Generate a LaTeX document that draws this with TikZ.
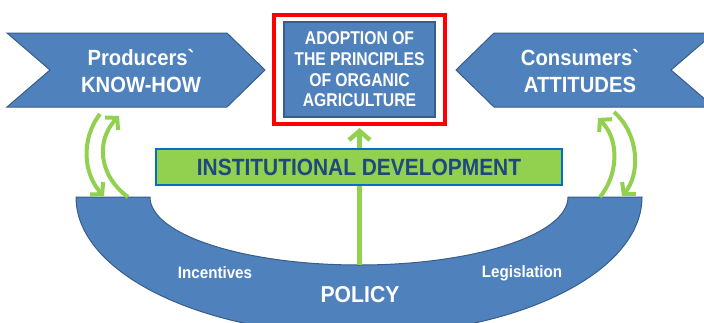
\documentclass[tikz,border=0pt]{standalone}
\usepackage{fontspec}
\usetikzlibrary{arrows.meta}
\newfontfamily\chevfont[FakeStretch=0.92,Ligatures=TeXOff]{Liberation Sans}
\newfontfamily\boxfont[FakeStretch=0.85]{Liberation Sans}
\newfontfamily\instfont[FakeStretch=0.89]{Liberation Sans}
\newfontfamily\polfont[FakeStretch=0.92]{Liberation Sans}
\definecolor{pblue}{HTML}{4F81BD}
\definecolor{pbord}{HTML}{385D8A}
\definecolor{pgreen}{HTML}{92D050}
\definecolor{iblue}{HTML}{0070C0}
\definecolor{tblue}{HTML}{1F497D}
\tikzset{
  blueshape/.style={fill=pblue, draw=pbord, line width=1pt, line join=miter},
  chevtext/.style={text=white, align=center, font=\chevfont\bfseries\fontsize{22}{27}\selectfont, inner sep=0pt},
  adopttext/.style={fill=pblue, draw=pbord, line width=1.5pt, text=white, align=center,
    font=\boxfont\bfseries\fontsize{18.5}{20.7}\selectfont, minimum width=151pt, minimum height=95pt, inner sep=0pt},
  redframe/.style={draw=red, line width=4pt, minimum width=171pt, minimum height=109pt, inner sep=0pt},
  instbox/.style={draw=iblue, line width=2pt, fill=pgreen, text=tblue, minimum width=406pt, minimum height=36pt,
    font=\instfont\bfseries\fontsize{23.5}{26}\selectfont, inner sep=0pt},
  smalllabel/.style={text=white, font=\polfont\bfseries\fontsize{16.5}{18}\selectfont, inner sep=0pt},
  biglabel/.style={text=white, font=\polfont\bfseries\fontsize{23}{26}\selectfont, inner sep=0pt},
  garrow/.style={draw=pgreen, line width=4pt, -{Straight Barb[length=8pt,width=18pt]}},
  uparrow/.style={draw=pgreen, line width=4.5pt, -{Straight Barb[length=9pt,width=21pt]}}
}
\begin{document}
\begin{tikzpicture}[x=1pt,y=-1pt]
\useasboundingbox (0,0) rectangle (704,322);
\clip (0,0) rectangle (704,322);
\fill[white] (0,0) rectangle (704,322);

% left chevron
\draw[blueshape] (7,33) -- (227,33) -- (265,70) -- (227,107) -- (7,107) -- (50,70) -- cycle;
\node[chevtext] (prod) at (141,71) {Producers`\\KNOW-HOW};

% right chevron
\draw[blueshape] (494,33) -- (714,33) -- (671,70) -- (714,107) -- (494,107) -- (456,70) -- cycle;
\node[chevtext] (cons) at (580,71) {Consumers`\\ATTITUDES};

% central box
\node[redframe] (frame) at (359.5,69.5) {};
\node[adopttext] (adopt) at (359.5,69.5) {ADOPTION OF\\THE PRINCIPLES\\OF ORGANIC\\AGRICULTURE};

% policy bowl
\draw[blueshape] (77,197) -- (150,197)
  arc[start angle=180, end angle=0, x radius=209, y radius=68]
  -- (642,197)
  arc[start angle=0, end angle=180, x radius=283, y radius=138] -- cycle;

% up arrow
\coordinate (polin) at (359.5,265);
\draw[uparrow, shorten >=2pt] (polin) -- (frame.south);

% institutional box
\node[instbox] (inst) at (359,167) {INSTITUTIONAL DEVELOPMENT};

% labels
\node[smalllabel] (inc) at (215,273) {Incentives};
\node[smalllabel] (leg) at (522,273) {Legislation};
\node[biglabel] (pol) at (360,295) {POLICY};

% side arrows left
\coordinate (lA1) at (100,114);
\coordinate (lA2) at (104,196);
\coordinate (lB1) at (128,197);
\coordinate (lB2) at (119,116);
\draw[garrow] (lA1) .. controls (80,140) and (84,175) .. (lA2);
\draw[garrow] (lB1) .. controls (98,175) and (96,140) .. (lB2);

% side arrows right
\coordinate (rC1) at (600,197);
\coordinate (rC2) at (598,118);
\coordinate (rD1) at (614,112);
\coordinate (rD2) at (622,196);
\draw[garrow] (rC1) .. controls (618,175) and (620,140) .. (rC2);
\draw[garrow] (rD1) .. controls (640,135) and (640,175) .. (rD2);
\end{tikzpicture}
\end{document}
